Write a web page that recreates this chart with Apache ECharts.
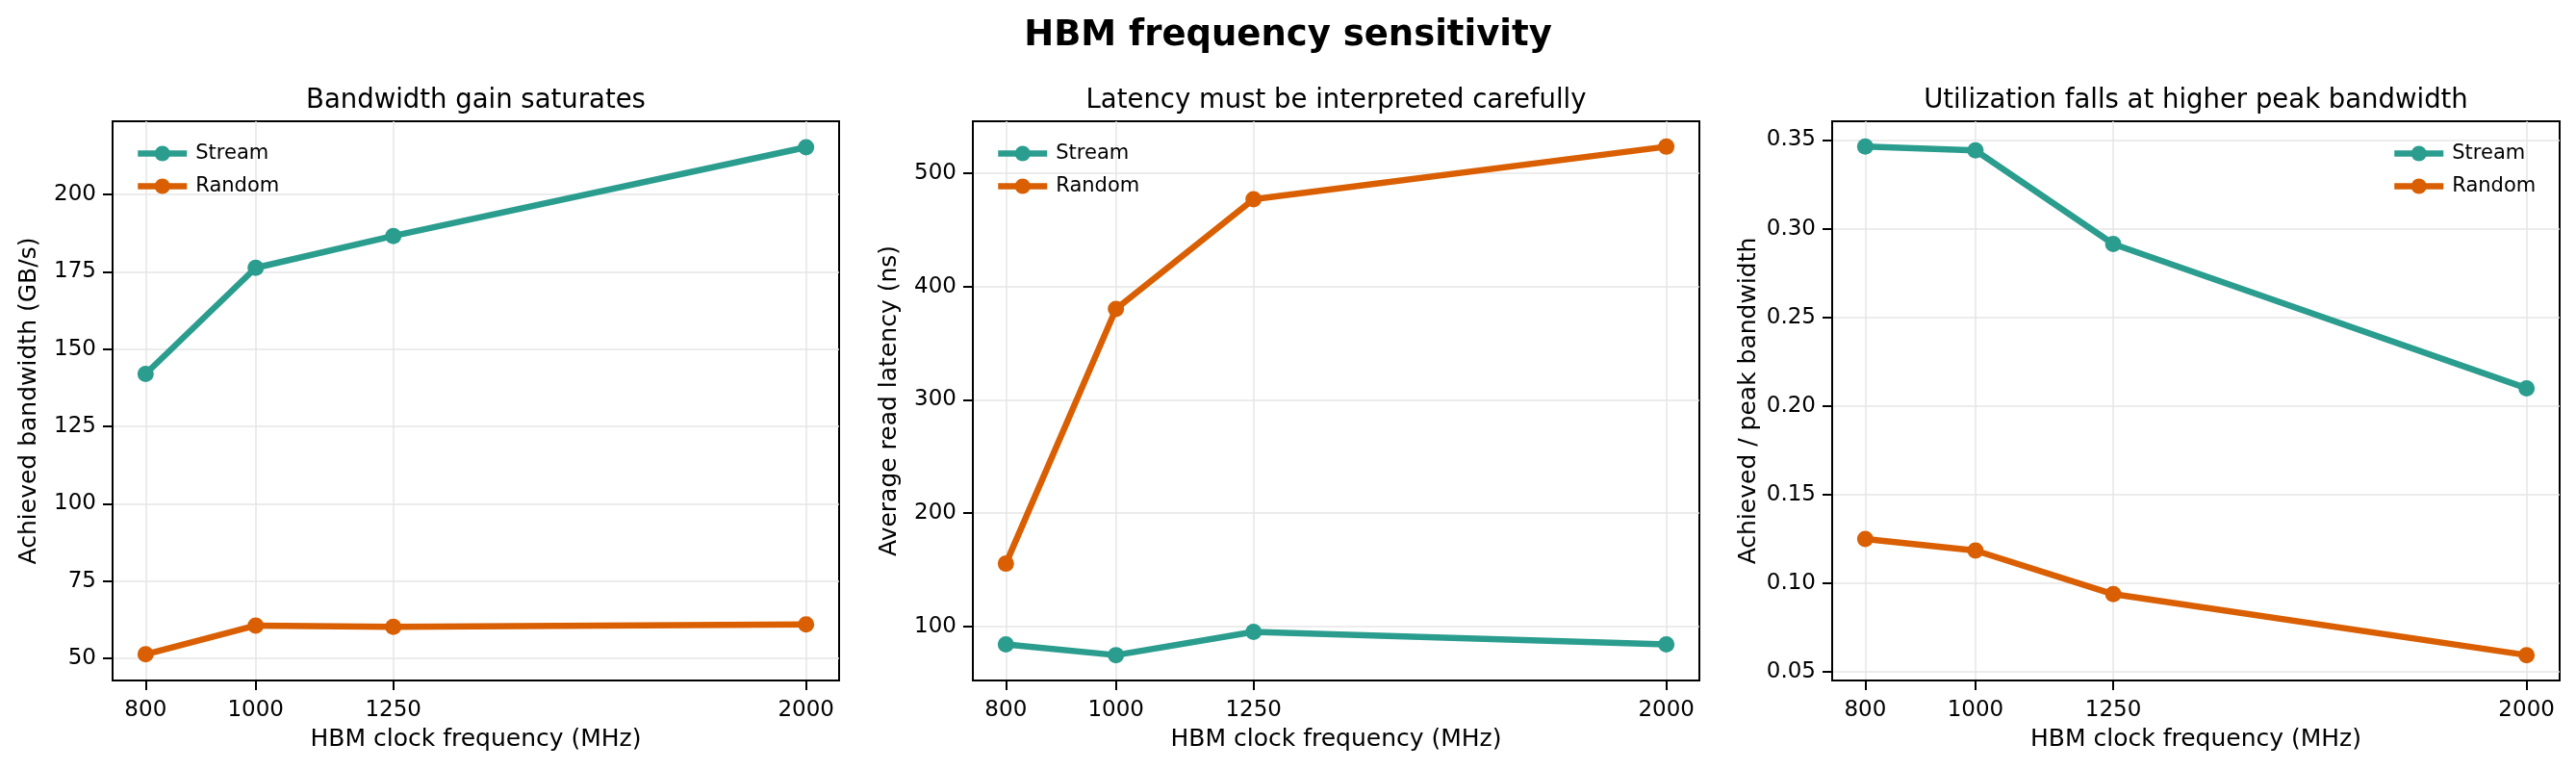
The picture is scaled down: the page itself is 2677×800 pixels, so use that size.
<!DOCTYPE html>
<html>
<head>
    <meta charset="utf-8">
    <title>HBM frequency sensitivity</title>
    <script src="https://cdn.jsdelivr.net/npm/echarts@6/dist/echarts.min.js"></script>
    <style>
        html, body { margin: 0; padding: 0; background: #fff; }
    </style>
</head>
<body>
    <div id="chart" style="width: 2677px;height:800px;"></div>
    <script type="text/javascript">
        // data
        var freqs = [800, 1000, 1250, 2000];
        var xTicks = [800, 1000, 1250, 2000];

        var bwStream = [142.0, 176.3, 186.6, 215.3];
        var bwRandom = [51.3, 60.6, 60.2, 61.0];
        var bwTicks = [50, 75, 100, 125, 150, 175, 200];

        var latStream = [84.2, 74.8, 95.3, 84.2];
        var latRandom = [155.5, 380.2, 477.1, 523.5];
        var latTicks = [100, 200, 300, 400, 500];

        var utilStream = [0.3463, 0.3442, 0.2914, 0.2100];
        var utilRandom = [0.1250, 0.1185, 0.0939, 0.0595];
        var utilTicks = [0.05, 0.10, 0.15, 0.20, 0.25, 0.30, 0.35];

        var seriesNames = ['Stream', 'Random'];
        var colors = ['#2a9d8f', '#d95f02'];

        var font = 'DejaVu Sans';
        var grids = [
            { left: 117, top: 126, width: 755, height: 581 },
            { left: 1011, top: 126, width: 755, height: 581 },
            { left: 1904, top: 126, width: 756, height: 581 }
        ];
        var titles = ['Bandwidth gain saturates', 'Latency must be interpreted carefully', 'Utilization falls at higher peak bandwidth'];
        var yNames = ['Achieved bandwidth (GB/s)', 'Average read latency (ns)', 'Achieved / peak bandwidth'];
        var yRanges = [[42.85, 223.7], [52.4, 545.9], [0.0452, 0.3606]];
        var yTickLists = [bwTicks, latTicks, utilTicks];
        var panels = [[bwStream, bwRandom], [latStream, latRandom], [utilStream, utilRandom]];

        function pairs(ys) {
            return freqs.map(function (f, i) { return [f, ys[i]]; });
        }

        var xAxes = [], yAxes = [], series = [], legends = [], graphics = [];
        grids.forEach(function (g, k) {
            xAxes.push({
                type: 'value', gridIndex: k, min: 740, max: 2060,
                name: 'HBM clock frequency (MHz)', nameLocation: 'middle', nameGap: 49,
                nameTextStyle: { fontFamily: font, fontSize: 25, color: '#000' },
                axisLine: { show: true, onZero: false, lineStyle: { color: '#000', width: 2 } },
                axisTick: { show: true, length: 10, lineStyle: { color: '#000', width: 2 }, customValues: xTicks },
                axisLabel: {
                    fontFamily: font, fontSize: 23, color: '#000', margin: 20, customValues: xTicks,
                    formatter: function (v) { return String(v); }
                },
                splitLine: { show: true, lineStyle: { color: '#e6e6e6', width: 1.5 } }
            });
            yAxes.push({
                type: 'value', gridIndex: k, min: yRanges[k][0], max: yRanges[k][1],
                name: yNames[k], nameLocation: 'middle', nameGap: 74,
                nameTextStyle: { fontFamily: font, fontSize: 25, color: '#000' },
                axisLine: { show: true, lineStyle: { color: '#000', width: 2 } },
                axisTick: { show: true, length: 10, lineStyle: { color: '#000', width: 2 }, customValues: yTickLists[k] },
                axisLabel: {
                    fontFamily: font, fontSize: 23, color: '#000', margin: 17, customValues: yTickLists[k],
                    formatter: k === 2 ? function (v) { return v.toFixed(2); } : function (v) { return String(v); }
                },
                splitLine: { show: true, lineStyle: { color: '#e6e6e6', width: 1.5 } }
            });
            panels[k].forEach(function (ys, s) {
                series.push({
                    name: seriesNames[s], type: 'line', xAxisIndex: k, yAxisIndex: k,
                    data: pairs(ys), symbol: 'circle', symbolSize: 17,
                    lineStyle: { width: 6.5, color: colors[s] },
                    itemStyle: { color: colors[s] },
                    emphasis: { disabled: true }, animation: false
                });
            });
            legends.push({
                data: seriesNames, orient: 'vertical',
                left: k === 2 ? 2480 : g.left + 18, top: 144,
                itemWidth: 51, itemHeight: 20, itemGap: 13,
                lineStyle: { width: 6.5 },
                textStyle: { fontFamily: font, fontSize: 21, color: '#000', padding: [0, 0, 0, 4] },
                selectedMode: false
            });
            graphics.push({
                type: 'text', x: g.left + g.width / 2, y: 105,
                style: { text: titles[k], fontFamily: font, fontSize: 27.5, fill: '#000', align: 'center', verticalAlign: 'middle' }
            });
        });

        var option = {
            backgroundColor: '#fff',
            animation: false,
            title: {
                text: 'HBM frequency sensitivity', left: 'center', top: 14,
                textStyle: { fontFamily: font, fontSize: 37, fontWeight: 'bold', color: '#000' }
            },
            grid: grids.map(function (g) {
                return { left: g.left, top: g.top, width: g.width, height: g.height, show: true, borderColor: '#000', borderWidth: 2, containLabel: false };
            }),
            legend: legends,
            xAxis: xAxes,
            yAxis: yAxes,
            series: series,
            graphic: graphics
        };

        var chart = echarts.init(document.getElementById('chart'));
        chart.setOption(option);
    </script>
</body>
</html>
